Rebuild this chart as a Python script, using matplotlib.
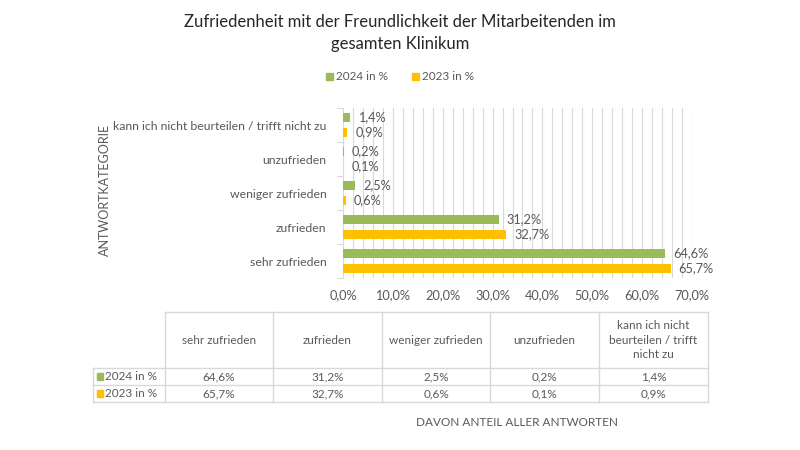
import matplotlib
matplotlib.use("Agg")
import matplotlib.pyplot as plt
from matplotlib.patches import Patch, Rectangle
from matplotlib.ticker import MultipleLocator, FuncFormatter
import numpy as np

plt.rcParams['font.family'] = ['Lato', 'DejaVu Sans']

title = "Zufriedenheit mit der Freundlichkeit der Mitarbeitenden im\ngesamten Klinikum"
categories = ["sehr zufrieden", "zufrieden", "weniger zufrieden", "unzufrieden",
              "kann ich nicht beurteilen / trifft nicht zu"]
table_headers = ["sehr zufrieden", "zufrieden", "weniger zufrieden", "unzufrieden",
                 "kann ich nicht\nbeurteilen / trifft\nnicht zu"]
series_names = ["2024 in %", "2023 in %"]
values_2024 = [64.6, 31.2, 2.5, 0.2, 1.4]
values_2023 = [65.7, 32.7, 0.6, 0.1, 0.9]
xlabel = "DAVON ANTEIL ALLER ANTWORTEN"
ylabel = "ANTWORTKATEGORIE"

GREEN = "#9BBB59"
ORANGE = "#FFC000"
TXT = "#595959"
GRID = "#D9D9D9"

def fmt(v):
    return f"{v:.1f}%".replace(".", ",")

W, H = 800, 450
fig = plt.figure(figsize=(8, 4.5), dpi=100)

def fx(x):
    return x / W

def fy(y):
    return 1 - y / H

FS = 8.8

# main axes
left, right, top, bottom = 343, 692, 108, 278
ax = fig.add_axes([fx(left), fy(bottom), fx(right - left), (bottom - top) / H])
y = np.arange(len(categories))
bh = 0.27
off = 0.22
ax.barh(y + off, values_2024, height=bh, color=GREEN, zorder=3)
ax.barh(y - off, values_2023, height=bh, color=ORANGE, zorder=3)
for yi, v in zip(y, values_2024):
    ax.text(v + 1.6, yi + off, fmt(v), va="center", ha="left", fontsize=FS + 0.4, color=TXT)
for yi, v in zip(y, values_2023):
    ax.text(v + 1.6, yi - off, fmt(v), va="center", ha="left", fontsize=FS + 0.4, color=TXT)

ax.set_xlim(0, 70)
ax.set_ylim(-0.5, len(categories) - 0.5)
ax.xaxis.set_major_locator(MultipleLocator(10))
ax.xaxis.set_minor_locator(MultipleLocator(2))
ax.xaxis.set_major_formatter(FuncFormatter(lambda v, p: fmt(v)))
ax.grid(axis="x", which="both", color=GRID, linewidth=0.8, zorder=0)
ax.set_yticks(y)
ax.set_yticklabels(categories)
ax.set_yticks(np.arange(-0.5, len(categories), 1), minor=True)
ax.tick_params(axis="y", which="major", length=0, pad=12, labelsize=FS, labelcolor=TXT)
ax.tick_params(axis="y", which="minor", length=4, color=GRID, width=0.8)
ax.tick_params(axis="x", which="both", length=0, pad=8, labelsize=FS + 0.4, labelcolor=TXT)
for s in ["top", "right", "bottom"]:
    ax.spines[s].set_visible(False)
ax.spines["left"].set_color(GRID)
ax.spines["left"].set_linewidth(0.8)

# title
fig.text(0.5, fy(33), title, ha="center", va="center", fontsize=12, color="#262626",
         linespacing=1.5)

# legend
fig.legend(handles=[Patch(color=GREEN, label=series_names[0]),
                    Patch(color=ORANGE, label=series_names[1])],
           loc="center", bbox_to_anchor=(0.5, fy(77)), ncol=2, frameon=False,
           fontsize=8.5, handlelength=0.6, handleheight=0.6, handletextpad=0.3,
           columnspacing=2.0, labelcolor=TXT)

# axis titles
fig.text(fx(105), fy(190), ylabel, rotation=90, ha="center", va="center",
         fontsize=9, color=TXT)
fig.text(fx(517), fy(423), xlabel, ha="center", va="center", fontsize=8.5, color=TXT)

# data table
ov = fig.add_axes([0, 0, 1, 1])
ov.set_xlim(0, W)
ov.set_ylim(H, 0)
ov.axis("off")
col_x = [165, 273, 382, 490, 599, 708]
row_lab_x = 93
t_top, h_bot, r1_bot, r2_bot = 312, 368, 385, 402
lw = 1.0
ov.plot([col_x[0], col_x[-1]], [t_top, t_top], color=GRID, lw=lw)
for yy in [h_bot, r1_bot, r2_bot]:
    ov.plot([row_lab_x, col_x[-1]], [yy, yy], color=GRID, lw=lw)
ov.plot([row_lab_x, row_lab_x], [h_bot, r2_bot], color=GRID, lw=lw)
for xx in col_x:
    ov.plot([xx, xx], [t_top, r2_bot], color=GRID, lw=lw)
TFS = 8.5
for i, hdr in enumerate(table_headers):
    cx = (col_x[i] + col_x[i + 1]) / 2
    ov.text(cx, (t_top + h_bot) / 2, hdr, ha="center", va="center", fontsize=TFS,
            color=TXT, linespacing=1.35)
rows = [(values_2024, GREEN, series_names[0], h_bot, r1_bot),
        (values_2023, ORANGE, series_names[1], r1_bot, r2_bot)]
for vals, col, name, ya, yb in rows:
    cy = (ya + yb) / 2
    ov.add_patch(Rectangle((97, cy - 3.5), 6, 7, color=col))
    ov.text(105, cy, name, ha="left", va="center", fontsize=TFS, color=TXT)
    for i, v in enumerate(vals):
        cx = (col_x[i] + col_x[i + 1]) / 2
        ov.text(cx, cy, fmt(v), ha="center", va="center", fontsize=TFS, color=TXT)

fig.savefig("out.png", dpi=100, facecolor="white")
